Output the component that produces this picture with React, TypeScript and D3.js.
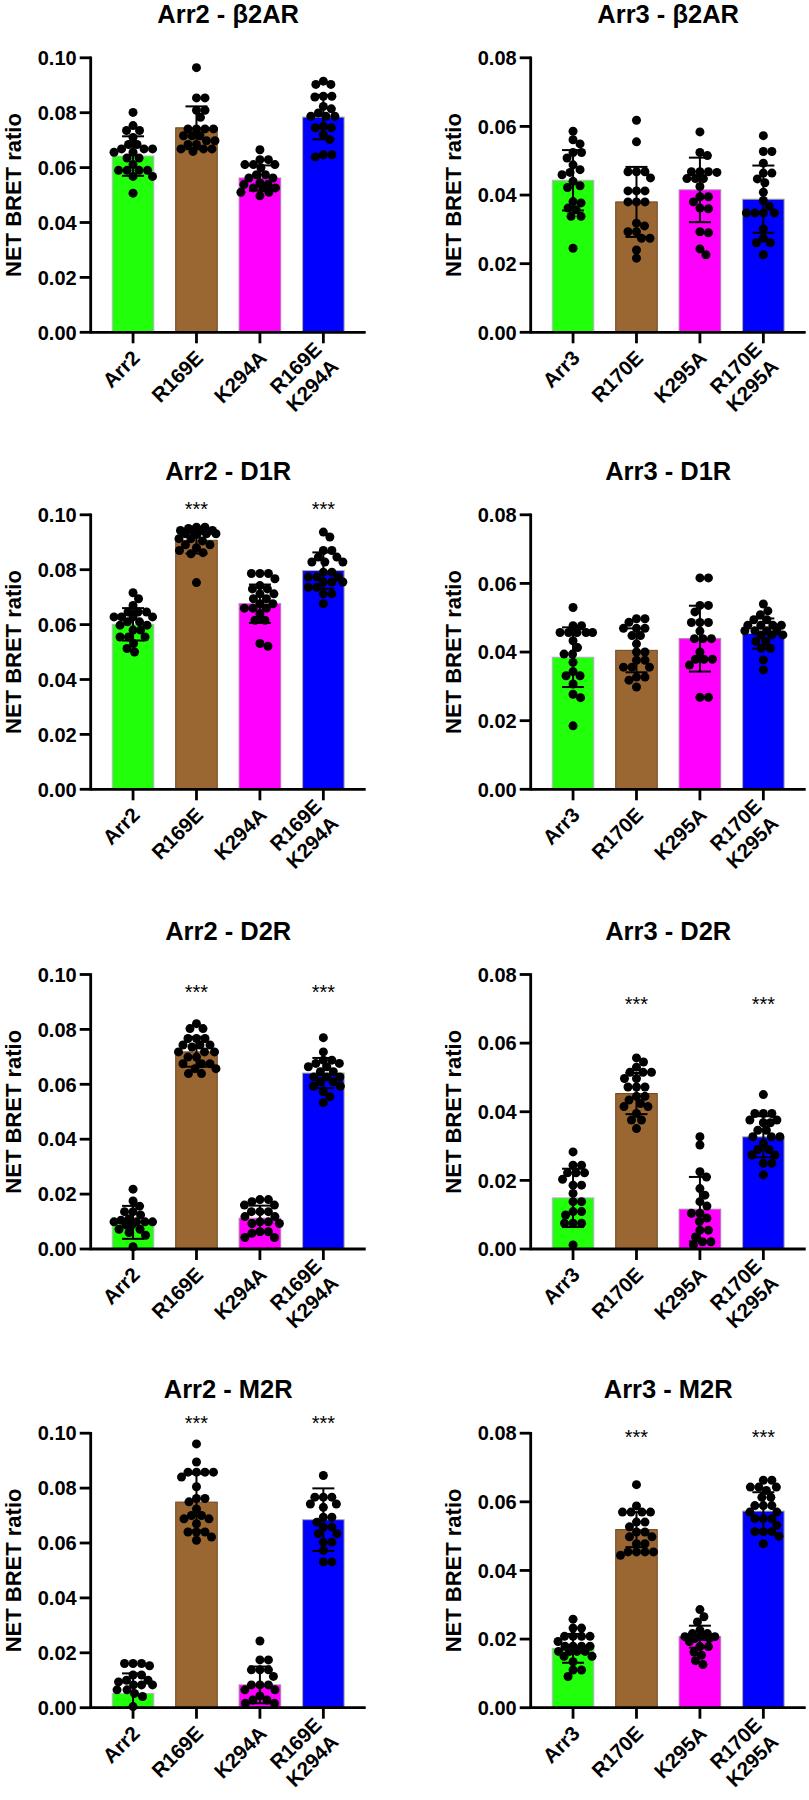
import React from "react";
import * as d3 from "d3";

// ---------- categories ----------
const CATS_ARR2 = ["Arr2", "R169E", "K294A", "R169E\nK294A"];
const CATS_ARR3 = ["Arr3", "R170E", "K295A", "R170E\nK295A"];
const TITLES = [
  "Arr2 - β2AR", "Arr3 - β2AR",
  "Arr2 - D1R", "Arr3 - D1R",
  "Arr2 - D2R", "Arr3 - D2R",
  "Arr2 - M2R", "Arr3 - M2R",
];
const Y_MAX = [0.1, 0.08, 0.1, 0.08, 0.1, 0.08, 0.1, 0.08];
const SIG_LEVEL = [null, null, 0.1036, null, 0.0952, 0.0727, 0.105, 0.08];
const SIG_MARK = [
  ["", "", "", ""], ["", "", "", ""],
  ["", "***", "", "***"], ["", "", "", ""],
  ["", "***", "", "***"], ["", "***", "", "***"],
  ["", "***", "", "***"], ["", "***", "", "***"],
];

// ---------- Arr2 - β2AR ----------
const P1_MEAN = [0.0642, 0.0745, 0.0562, 0.0784];
const P1_SD = [0.0072, 0.0078, 0.0046, 0.0081];
const P1_ARR2 = [0.0801, 0.0753, 0.0735, 0.0735, 0.071, 0.0684, 0.0684, 0.0668, 0.0668, 0.0668, 0.0656, 0.0656, 0.0635, 0.0635, 0.0611, 0.059, 0.059, 0.059, 0.059, 0.0568, 0.0568, 0.0507];
const P1_R169E = [0.0964, 0.0854, 0.0854, 0.0809, 0.0809, 0.0783, 0.0741, 0.0741, 0.0741, 0.0741, 0.0716, 0.0716, 0.0716, 0.0698, 0.0698, 0.0684, 0.0684, 0.0668, 0.0668, 0.0668, 0.0659];
const P1_K294A = [0.0665, 0.0629, 0.0629, 0.0611, 0.0611, 0.0611, 0.0599, 0.0574, 0.0574, 0.0562, 0.0562, 0.0544, 0.0538, 0.0538, 0.0526, 0.0526, 0.0526, 0.051, 0.051, 0.0497];
const P1_DOUBLE = [0.0915, 0.0903, 0.0903, 0.086, 0.086, 0.0857, 0.0823, 0.0814, 0.0799, 0.0787, 0.0787, 0.0787, 0.075, 0.0745, 0.0745, 0.072, 0.0702, 0.0647, 0.0647, 0.0639];

// ---------- Arr3 - β2AR ----------
const P2_MEAN = [0.0443, 0.038, 0.0415, 0.0388];
const P2_SD = [0.0088, 0.0102, 0.0094, 0.0098];
const P2_ARR3 = [0.0586, 0.0561, 0.0549, 0.0524, 0.0524, 0.0508, 0.0488, 0.0474, 0.0466, 0.0459, 0.044, 0.0427, 0.0422, 0.0381, 0.0377, 0.0362, 0.0357, 0.0338, 0.0338, 0.0245];
const P2_R170E = [0.0618, 0.0555, 0.0468, 0.0468, 0.0468, 0.045, 0.0412, 0.0412, 0.0412, 0.038, 0.038, 0.038, 0.0318, 0.031, 0.0293, 0.0293, 0.0274, 0.0274, 0.024, 0.0216];
const P2_K295A = [0.0584, 0.0524, 0.0515, 0.0468, 0.0468, 0.0468, 0.0466, 0.0448, 0.0448, 0.0448, 0.0425, 0.0395, 0.0395, 0.038, 0.0362, 0.036, 0.0293, 0.029, 0.0243, 0.0226];
const P2_DOUBLE = [0.0573, 0.0527, 0.0527, 0.0493, 0.0464, 0.0464, 0.0447, 0.0436, 0.0408, 0.0384, 0.0367, 0.0348, 0.0348, 0.0348, 0.0348, 0.0301, 0.0274, 0.0261, 0.0261, 0.0226];

// ---------- Arr2 - D1R ----------
const P3_MEAN = [0.0601, 0.0907, 0.0676, 0.0797];
const P3_SD = [0.0059, 0.0048, 0.007, 0.0066];
const P3_ARR2 = [0.0716, 0.0694, 0.067, 0.0646, 0.0646, 0.0646, 0.0628, 0.0628, 0.0628, 0.0628, 0.061, 0.061, 0.0598, 0.0598, 0.058, 0.058, 0.0555, 0.0555, 0.0555, 0.0531, 0.0513, 0.05];
const P3_R169E = [0.0955, 0.0955, 0.095, 0.0943, 0.0943, 0.0943, 0.094, 0.0931, 0.0931, 0.0931, 0.0928, 0.0913, 0.0913, 0.0905, 0.0891, 0.0891, 0.088, 0.087, 0.0862, 0.0858, 0.0753];
const P3_K294A = [0.0786, 0.0786, 0.0786, 0.0767, 0.0742, 0.073, 0.073, 0.0712, 0.0712, 0.0694, 0.0694, 0.0676, 0.0676, 0.066, 0.066, 0.066, 0.064, 0.0616, 0.0616, 0.0531, 0.0521];
const P3_DOUBLE = [0.0937, 0.0919, 0.087, 0.087, 0.0846, 0.0846, 0.0828, 0.0828, 0.0828, 0.0791, 0.0791, 0.0773, 0.0773, 0.0773, 0.0755, 0.0755, 0.0755, 0.0736, 0.0736, 0.0712, 0.0712, 0.0676];

// ---------- Arr3 - D1R ----------
const P4_MEAN = [0.0385, 0.0405, 0.0439, 0.0454];
const P4_SD = [0.0087, 0.0064, 0.0096, 0.0044];
const P4_ARR3 = [0.053, 0.0477, 0.0477, 0.0457, 0.0457, 0.0457, 0.0457, 0.0457, 0.0433, 0.0413, 0.0394, 0.0394, 0.037, 0.0343, 0.0331, 0.0331, 0.0307, 0.0277, 0.0267, 0.0185];
const P4_R170E = [0.0497, 0.0497, 0.0487, 0.0469, 0.0469, 0.0469, 0.0448, 0.0448, 0.0424, 0.04, 0.04, 0.0376, 0.0376, 0.0356, 0.0356, 0.0356, 0.0327, 0.0327, 0.0318, 0.0298];
const P4_K295A = [0.0616, 0.0616, 0.0536, 0.0536, 0.0517, 0.0486, 0.0486, 0.0486, 0.0461, 0.0439, 0.0439, 0.0439, 0.04, 0.0379, 0.0379, 0.0379, 0.0362, 0.0268, 0.0268];
const P4_DOUBLE = [0.054, 0.052, 0.0509, 0.0494, 0.0494, 0.0478, 0.0478, 0.0478, 0.0478, 0.0462, 0.0462, 0.0462, 0.0462, 0.045, 0.045, 0.045, 0.0431, 0.0431, 0.0411, 0.0411, 0.0377, 0.0348];

// ---------- Arr2 - D2R ----------
const P5_MEAN = [0.0097, 0.0718, 0.0112, 0.0641];
const P5_SD = [0.006, 0.0054, 0.0046, 0.0055];
const P5_ARR2 = [0.0218, 0.0175, 0.0156, 0.0136, 0.0136, 0.0124, 0.011, 0.0105, 0.0099, 0.0099, 0.0099, 0.0099, 0.0088, 0.0088, 0.0072, 0.0072, 0.006, 0.005, 0.0008];
const P5_R169E = [0.0821, 0.0803, 0.0803, 0.0767, 0.0767, 0.0767, 0.0743, 0.0743, 0.0743, 0.0736, 0.0718, 0.0718, 0.0718, 0.0699, 0.0699, 0.0675, 0.0675, 0.0675, 0.0657, 0.0657, 0.0639, 0.0639];
const P5_K294A = [0.018, 0.018, 0.0172, 0.016, 0.016, 0.0136, 0.0136, 0.0136, 0.0118, 0.0118, 0.0099, 0.0099, 0.0093, 0.0093, 0.0063, 0.0063, 0.0057, 0.0042, 0.0042];
const P5_DOUBLE = [0.077, 0.0718, 0.0688, 0.0688, 0.0676, 0.0676, 0.0664, 0.0664, 0.0646, 0.0646, 0.0627, 0.0627, 0.0627, 0.0609, 0.0609, 0.0593, 0.0593, 0.0573, 0.0555, 0.0533];

// ---------- Arr3 - D2R ----------
const P6_MEAN = [0.0149, 0.0453, 0.0116, 0.0327];
const P6_SD = [0.0085, 0.006, 0.0094, 0.006];
const P6_ARR3 = [0.0283, 0.0244, 0.0244, 0.0222, 0.0222, 0.0222, 0.0203, 0.0186, 0.0186, 0.0162, 0.0138, 0.0138, 0.0109, 0.0109, 0.0099, 0.0075, 0.0075, 0.0075, 0.0012];
const P6_R170E = [0.0557, 0.0545, 0.053, 0.0515, 0.0515, 0.0515, 0.0497, 0.0497, 0.0472, 0.0472, 0.0472, 0.0445, 0.0445, 0.0434, 0.0424, 0.0415, 0.0415, 0.0395, 0.0376, 0.0376, 0.0351];
const P6_K295A = [0.0327, 0.0303, 0.0225, 0.021, 0.0176, 0.0157, 0.0138, 0.0125, 0.0104, 0.0104, 0.009, 0.008, 0.0055, 0.0055, 0.0035, 0.0021, 0.0021, 0.0012];
const P6_DOUBLE = [0.045, 0.0395, 0.0395, 0.0395, 0.0376, 0.0376, 0.0368, 0.0368, 0.0346, 0.0346, 0.0327, 0.0327, 0.0327, 0.0308, 0.029, 0.029, 0.0274, 0.0274, 0.025, 0.025, 0.0216];

// ---------- Arr2 - M2R ----------
const P7_MEAN = [0.0052, 0.0749, 0.0083, 0.0685];
const P7_SD = [0.0073, 0.0103, 0.0067, 0.0114];
const P7_ARR2 = [0.0161, 0.0161, 0.0161, 0.0153, 0.0119, 0.0119, 0.01, 0.01, 0.0094, 0.0083, 0.0083, 0.0083, 0.0065, 0.0065, 0.0052, 0.0041, 0.0004];
const P7_R169E = [0.0961, 0.0895, 0.0858, 0.0858, 0.0858, 0.0858, 0.084, 0.0805, 0.0762, 0.0762, 0.075, 0.0724, 0.07, 0.07, 0.0688, 0.0688, 0.067, 0.064, 0.064, 0.064, 0.0622, 0.061];
const P7_K294A = [0.0243, 0.0174, 0.0174, 0.0138, 0.0138, 0.0138, 0.0114, 0.0083, 0.0083, 0.0083, 0.0065, 0.0065, 0.0043, 0.0028, 0.0028, 0.0016, 0.0016];
const P7_DOUBLE = [0.0846, 0.0767, 0.0767, 0.0767, 0.0742, 0.0742, 0.073, 0.0694, 0.0694, 0.0676, 0.0658, 0.0658, 0.0634, 0.0634, 0.0603, 0.0603, 0.0573, 0.0531, 0.0531];

// ---------- Arr3 - M2R ----------
const P8_MEAN = [0.0173, 0.0519, 0.0207, 0.0573];
const P8_SD = [0.0042, 0.0051, 0.0032, 0.0055];
const P8_ARR3 = [0.0258, 0.0232, 0.0232, 0.0208, 0.0208, 0.0208, 0.0208, 0.0193, 0.0179, 0.0179, 0.0179, 0.0179, 0.0164, 0.0164, 0.0164, 0.0164, 0.015, 0.015, 0.0134, 0.011, 0.011, 0.0091];
const P8_R170E = [0.065, 0.0588, 0.057, 0.057, 0.057, 0.057, 0.0541, 0.0541, 0.0527, 0.0512, 0.0512, 0.0498, 0.0498, 0.0478, 0.0478, 0.0454, 0.0454, 0.0454, 0.0454, 0.0444];
const P8_K295A = [0.0286, 0.0265, 0.025, 0.0226, 0.0216, 0.0216, 0.0207, 0.0207, 0.0207, 0.0207, 0.0202, 0.0202, 0.0193, 0.0178, 0.0178, 0.0162, 0.0153, 0.0137, 0.0126];
const P8_DOUBLE = [0.0663, 0.0663, 0.0643, 0.0643, 0.0643, 0.0633, 0.0613, 0.0613, 0.0589, 0.0589, 0.0589, 0.057, 0.057, 0.0551, 0.0551, 0.0551, 0.0532, 0.0513, 0.0513, 0.0513, 0.05, 0.0478];

const MEANS = [P1_MEAN, P2_MEAN, P3_MEAN, P4_MEAN, P5_MEAN, P6_MEAN, P7_MEAN, P8_MEAN];
const SDS = [P1_SD, P2_SD, P3_SD, P4_SD, P5_SD, P6_SD, P7_SD, P8_SD];
const DOTS = [
  [P1_ARR2, P1_R169E, P1_K294A, P1_DOUBLE],
  [P2_ARR3, P2_R170E, P2_K295A, P2_DOUBLE],
  [P3_ARR2, P3_R169E, P3_K294A, P3_DOUBLE],
  [P4_ARR3, P4_R170E, P4_K295A, P4_DOUBLE],
  [P5_ARR2, P5_R169E, P5_K294A, P5_DOUBLE],
  [P6_ARR3, P6_R170E, P6_K295A, P6_DOUBLE],
  [P7_ARR2, P7_R169E, P7_K294A, P7_DOUBLE],
  [P8_ARR3, P8_R170E, P8_K295A, P8_DOUBLE],
];

// ---------- styling / layout ----------
const FONT = "'Liberation Sans', Arial, Helvetica, sans-serif";
const FILLS = ["#22ff0a", "#9a6733", "#ff00ff", "#0000ff"];
const EDGES = ["#c3a9d6", "#6b4620", "#b477b4", "#b0ae92"];
const COL_X = [90.7, 530.7];
const ROW_BASE = [332.3, 789.3, 1249, 1707.7];
const PLOT_W = 275;
const PLOT_H = 274.5;
const DOT_R = 4.5;

function swarm(values: number[], y: (v: number) => number, r: number, maxHalf: number) {
  const pts = values.map((v) => ({ v, y: y(v), x: 0 })).sort((a, b) => a.y - b.y);
  const placed: { x: number; y: number }[] = [];
  const minD = 2 * r * 0.9;
  const step = 0.5;
  const nCand = Math.floor((2 * maxHalf) / step);
  for (const p of pts) {
    let best = 0;
    let bestScore = -Infinity;
    for (let k = 0; k <= nCand; k++) {
      const off = (k % 2 === 1 ? 1 : -1) * Math.ceil(k / 2) * step;
      let md = Infinity;
      for (const q of placed) {
        const dy = q.y - p.y;
        if (Math.abs(dy) < minD) md = Math.min(md, Math.hypot(q.x - off, dy));
      }
      if (md >= minD) { best = off; bestScore = md; break; }
      if (md > bestScore + 0.3) { bestScore = md; best = off; }
    }
    p.x = best;
    placed.push(p);
  }
  return pts;
}

function Panel({ idx }: { idx: number }) {
  const col = idx % 2;
  const row = Math.floor(idx / 2);
  const x0 = COL_X[col];
  const base = ROW_BASE[row];
  const top = base - PLOT_H;
  const yMax = Y_MAX[idx];
  const y = d3.scaleLinear().domain([0, yMax]).range([base, top]);
  const x = d3.scaleBand<number>().domain(d3.range(4)).range([x0, x0 + PLOT_W]).paddingInner(0.345).paddingOuter(0.34);
  const bw = x.bandwidth();
  const ticks = y.ticks(yMax > 0.09 ? 5 : 4);
  const fmt = d3.format(".2f");
  const cats = col === 0 ? CATS_ARR2 : CATS_ARR3;
  const means = MEANS[idx];
  const sds = SDS[idx];
  const dots = DOTS[idx];
  const sig = SIG_MARK[idx];
  const sigLevel = SIG_LEVEL[idx];
  const cx = (i: number) => (x(i) as number) + bw / 2;

  return (
    <g>
      <text x={x0 + PLOT_W / 2} y={base - 309.5} textAnchor="middle" fontFamily={FONT} fontWeight="bold" fontSize={25.5}>
        {TITLES[idx]}
      </text>
      {/* bars */}
      {means.map((m, i) => (
        <rect key={"b" + i} x={x(i)} y={y(m)} width={bw} height={base - y(m)} fill={FILLS[i]} stroke={EDGES[i]} strokeWidth={1} />
      ))}
      {/* dots */}
      {dots.map((vals, i) =>
        swarm(vals, y, DOT_R, bw / 2 - 1.5).map((p, j) => (
          <circle key={"d" + i + "_" + j} cx={cx(i) + p.x} cy={p.y} r={DOT_R} fill="#000" />
        ))
      )}
      {/* error bars */}
      {means.map((m, i) => {
        const c = cx(i);
        const hi = y(m + sds[i]);
        const lo = y(Math.max(0, m - sds[i]));
        return (
          <g key={"e" + i} stroke="#000" strokeWidth={2}>
            <line x1={c} x2={c} y1={hi} y2={lo} />
            <line x1={c - 11} x2={c + 11} y1={hi} y2={hi} />
            <line x1={c - 11} x2={c + 11} y1={lo} y2={lo} />
          </g>
        );
      })}
      {/* significance */}
      {sigLevel !== null &&
        sig.map((s, i) =>
          s ? (
            <text key={"s" + i} x={cx(i)} y={y(sigLevel) + 11} textAnchor="middle" fontFamily={FONT} fontSize={20}>
              {s}
            </text>
          ) : null
        )}
      {/* y axis */}
      <line x1={x0} x2={x0} y1={top - 1.3} y2={base + 1.3} stroke="#000" strokeWidth={2.8} />
      {ticks.map((t) => (
        <g key={"t" + t}>
          <line x1={x0 - 11} x2={x0} y1={y(t)} y2={y(t)} stroke="#000" strokeWidth={2.8} />
          <text x={x0 - 14} y={y(t)} dy="0.36em" textAnchor="end" fontFamily={FONT} fontWeight="bold" fontSize={20}>
            {fmt(t)}
          </text>
        </g>
      ))}
      <text
        transform={`translate(${x0 - 70},${(top + base) / 2}) rotate(-90)`}
        textAnchor="middle"
        fontFamily={FONT}
        fontWeight="bold"
        fontSize={22}
      >
        NET BRET ratio
      </text>
      {/* x axis */}
      <line x1={x0} x2={x0 + PLOT_W} y1={base} y2={base} stroke="#000" strokeWidth={2.8} />
      {cats.map((c, i) => {
        const lines = c.split("\n");
        return (
          <g key={"x" + i}>
            <line x1={cx(i)} x2={cx(i)} y1={base} y2={base + 11} stroke="#000" strokeWidth={2.8} />
            <text
              transform={`translate(${cx(i) + 8},${base + 27}) rotate(-45)`}
              textAnchor="end"
              fontFamily={FONT}
              fontWeight="bold"
              fontSize={20.5}
            >
              {lines.map((l, k) => (
                <tspan key={k} x={0} y={(k - (lines.length - 1) / 2) * 24}>
                  {l}
                </tspan>
              ))}
            </text>
          </g>
        );
      })}
    </g>
  );
}

export default function App() {
  return (
    <svg
      width={809}
      height={1800}
      viewBox="0 0 809 1800"
      style={{ position: "absolute", left: 0, top: 0, background: "#fff" }}
    >
      <rect x={0} y={0} width={809} height={1800} fill="#fff" />
      {d3.range(8).map((i) => (
        <Panel key={i} idx={i} />
      ))}
    </svg>
  );
}
